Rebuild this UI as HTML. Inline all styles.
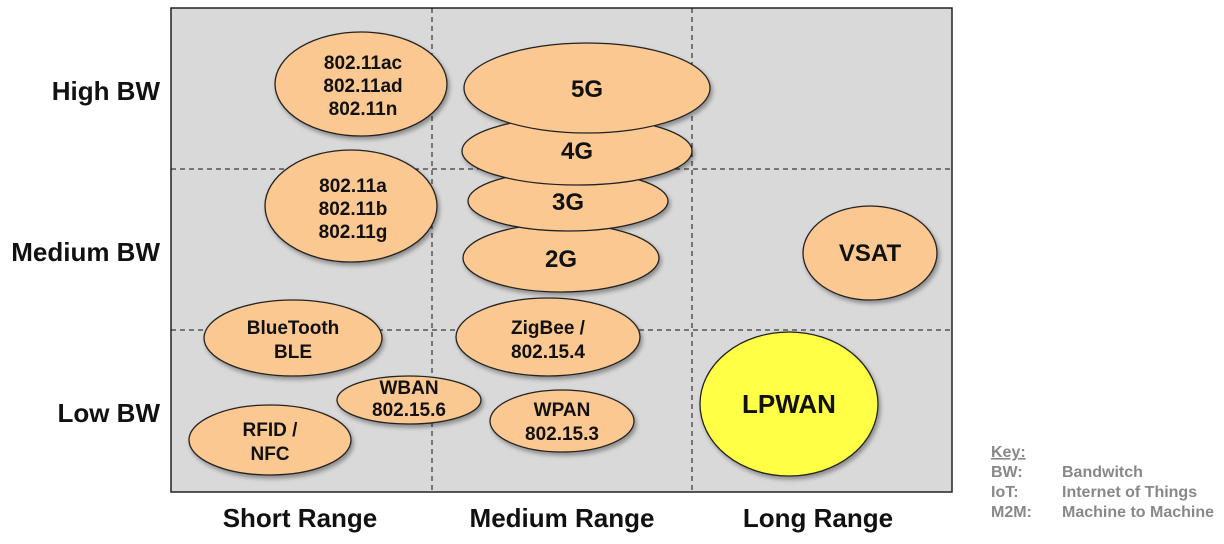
<!DOCTYPE html>
<html><head><meta charset="utf-8"><style>
body{margin:0;background:#fff}
svg text{font-family:"Liberation Sans",Arial,sans-serif;font-weight:bold}
</style></head><body>
<svg width="1224" height="539" viewBox="0 0 1224 539" xmlns="http://www.w3.org/2000/svg">
<defs><filter id="s" x="-10%" y="-10%" width="130%" height="130%"><feDropShadow dx="2" dy="3" stdDeviation="2" flood-color="#000" flood-opacity="0.35"/></filter></defs>
<rect x="171" y="8" width="781" height="484" fill="#d9d9d9" stroke="#222" stroke-width="1.5"/>
<g stroke="#111" stroke-width="1" stroke-dasharray="5,4">
<line x1="432" y1="8" x2="432" y2="492"/><line x1="692" y1="8" x2="692" y2="492"/>
<line x1="171" y1="169" x2="952" y2="169"/><line x1="171" y1="330" x2="952" y2="330"/>
</g>
<g fill="#fbc892" stroke="#222" stroke-width="1.3" filter="url(#s)">
<ellipse cx="361" cy="84" rx="86" ry="52"/>
<ellipse cx="351" cy="206" rx="86" ry="56"/>
<ellipse cx="561" cy="258" rx="98" ry="34"/>
<ellipse cx="568" cy="201" rx="100" ry="30"/>
<ellipse cx="577" cy="151" rx="115" ry="34"/>
<ellipse cx="587" cy="88" rx="123" ry="45"/>
<ellipse cx="870" cy="253" rx="67" ry="47"/>
<ellipse cx="293" cy="338" rx="89" ry="38"/>
<ellipse cx="548" cy="337" rx="92" ry="39"/>
<ellipse cx="409" cy="400" rx="72" ry="24"/>
<ellipse cx="562" cy="421" rx="72" ry="31"/>
<ellipse cx="270" cy="440" rx="81" ry="35"/>
<ellipse cx="789" cy="404" rx="89" ry="72" fill="#ffff44"/>
</g>
<g fill="#111" text-anchor="middle" font-size="19">
<text x="363" y="69">802.11ac</text><text x="363" y="92">802.11ad</text><text x="363" y="115">802.11n</text>
<text x="353" y="192">802.11a</text><text x="353" y="215">802.11b</text><text x="353" y="238">802.11g</text>
<text x="587" y="97" font-size="24">5G</text>
<text x="577" y="159" font-size="24">4G</text>
<text x="568" y="210" font-size="24">3G</text>
<text x="561" y="267" font-size="24">2G</text>
<text x="870" y="261" font-size="24">VSAT</text>
<text x="293" y="334">BlueTooth</text><text x="293" y="358">BLE</text>
<text x="548" y="334">ZigBee /</text><text x="548" y="358">802.15.4</text>
<text x="409" y="394">WBAN</text><text x="409" y="416">802.15.6</text>
<text x="562" y="416">WPAN</text><text x="562" y="440">802.15.3</text>
<text x="270" y="436">RFID /</text><text x="270" y="460">NFC</text>
<text x="789" y="413" font-size="26">LPWAN</text>
</g>
<g fill="#111" font-size="26">
<text x="160" y="100" text-anchor="end">High BW</text>
<text x="160" y="261" text-anchor="end">Medium BW</text>
<text x="160" y="422" text-anchor="end">Low BW</text>
<text x="300" y="527" text-anchor="middle">Short Range</text>
<text x="562" y="527" text-anchor="middle">Medium Range</text>
<text x="818" y="527" text-anchor="middle">Long Range</text>
</g>
<g fill="#888" font-size="16">
<text x="991" y="457" text-decoration="underline">Key:</text>
<text x="991" y="477">BW:</text><text x="1062" y="477">Bandwitch</text>
<text x="991" y="497">IoT:</text><text x="1062" y="497">Internet of Things</text>
<text x="991" y="517">M2M:</text><text x="1062" y="517">Machine to Machine</text>
</g>
</svg>
</body></html>
